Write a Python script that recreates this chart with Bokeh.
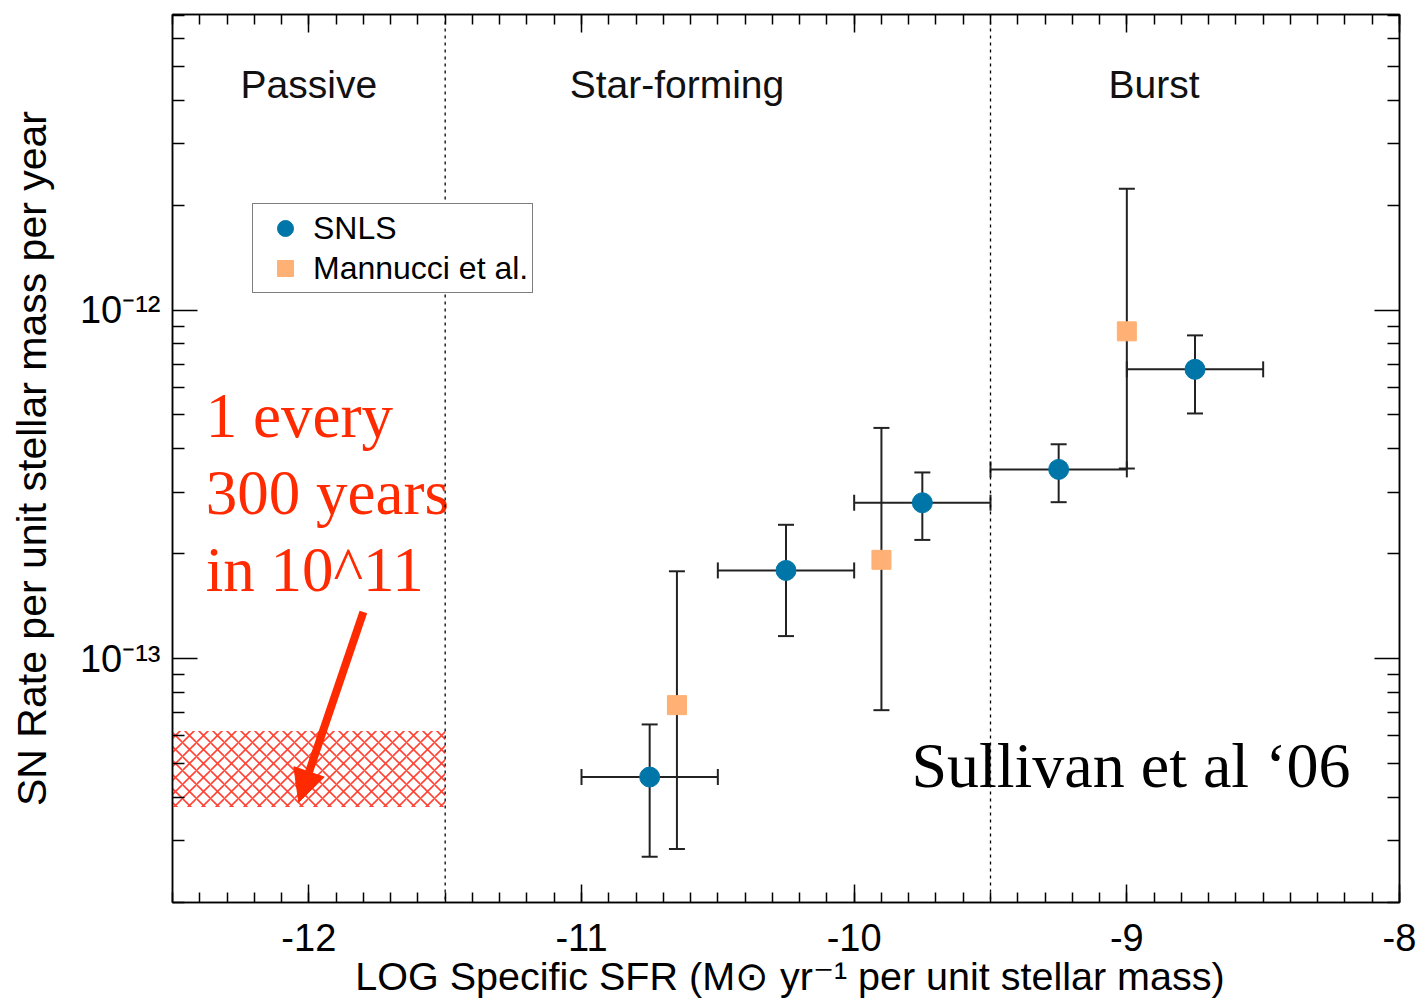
from bokeh.plotting import figure
from bokeh.models import (ColumnDataSource, Whisker, TeeHead, Span, Arrow, NormalHead,
                          FixedTicker, LinearAxis, LogAxis, Legend, LegendItem)
from bokeh.core.properties import value
from bokeh.embed import file_html
from bokeh.resources import INLINE

# ---------------- data ----------------
snls_x = [-10.75, -10.25, -9.75, -9.25, -8.75]
snls_y = [4.57e-14, 1.79e-13, 2.80e-13, 3.49e-13, 6.76e-13]
snls_y_lo = [2.70e-14, 1.16e-13, 2.19e-13, 2.81e-13, 5.05e-13]
snls_y_hi = [6.47e-14, 2.42e-13, 3.42e-13, 4.12e-13, 8.46e-13]
snls_x_lo = [-11.0, -10.5, -10.0, -9.5, -9.0]
snls_x_hi = [-10.5, -10.0, -9.5, -9.0, -8.5]

mann_x = [-10.65, -9.9, -9.0]
mann_y = [7.35e-14, 1.92e-13, 8.69e-13]
mann_y_lo = [2.84e-14, 7.11e-14, 3.51e-13]
mann_y_hi = [1.78e-13, 4.59e-13, 2.23e-12]

band_x = [-12.5, -11.5]
band_y = [3.75e-14, 6.20e-14]

regions = ["Passive", "Star-forming", "Burst"]
region_x = [-12.0, -10.65, -8.9]
region_y = [4.44e-12, 4.44e-12, 4.44e-12]
dividers = [-11.5, -9.5]

note_lines = ["1 every", "300 years", "in 10^11"]
note_x = [-12.378, -12.378, -12.378]
note_y = [4.95e-13, 2.98e-13, 1.79e-13]
arrow_from = (-11.80, 1.36e-13)
arrow_to = (-12.037, 3.87e-14)

credit = ["Sullivan et al \u201806"]
credit_x = [-9.79]
credit_y = [4.92e-14]

x_ticks = [-12, -11, -10, -9, -8]
x_tick_labels = ["-12", "-11", "-10", "-9", "-8"]
y_ticks = [1e-13, 1e-12]
y_tick_labels = ["10\u207b\u00b9\u00b3", "10\u207b\u00b9\u00b2"]

x_minor = [round(-12.5 + 0.1 * i, 2) for i in range(46)]
y_minor = [k * 10.0 ** e for e in (-14, -13, -12) for k in range(2, 10)]

SNLS_COLOR = "#0076a8"
MANN_COLOR = "#ffb074"
RED = "#ff2a00"
SANS = "Liberation Sans"
SERIF = "Liberation Serif"

p = figure(width=1419, height=1004, x_range=(-12.5, -8.0), y_range=(1.995e-14, 7.05e-12),
           y_axis_type="log", output_backend="svg", toolbar_location=None,
           min_border_left=172, min_border_right=20, min_border_top=14, min_border_bottom=102)
p.grid.visible = False
p.outline_line_color = "black"
p.outline_line_width = 1.5
p.background_fill_color = "white"
p.border_fill_color = "white"

bottom_axis = p.below[0]
left_axis = p.left[0]

# axes
bottom_axis.ticker = FixedTicker(ticks=x_ticks, minor_ticks=x_minor)
left_axis.ticker = FixedTicker(ticks=y_ticks, minor_ticks=y_minor)
bottom_axis.major_label_overrides = dict(zip(x_ticks, x_tick_labels))
left_axis.major_label_overrides = dict(zip(y_ticks, y_tick_labels))

top_axis = LinearAxis(ticker=FixedTicker(ticks=x_ticks, minor_ticks=x_minor),
                      major_label_overrides={t: "" for t in x_ticks})
right_axis = LogAxis(ticker=FixedTicker(ticks=y_ticks, minor_ticks=y_minor),
                     major_label_overrides={t: "" for t in y_ticks})
p.add_layout(top_axis, "above")
p.add_layout(right_axis, "right")

for ax in [bottom_axis, top_axis]:
    ax.major_tick_in = 18
    ax.major_tick_out = 0
    ax.minor_tick_in = 10
    ax.minor_tick_out = 0
for ax in [left_axis, right_axis]:
    ax.major_tick_in = 25
    ax.major_tick_out = 0
    ax.minor_tick_in = 12
    ax.minor_tick_out = 0
for ax in [bottom_axis, top_axis, left_axis, right_axis]:
    ax.axis_line_width = 1.5
    ax.major_tick_line_width = 1.5
    ax.minor_tick_line_width = 1.5
    ax.axis_line_color = "black"
    ax.major_tick_line_color = "black"
    ax.minor_tick_line_color = "black"
    ax.major_label_text_font = SANS
    ax.major_label_text_color = "black"
    ax.axis_label_text_font = SANS
    ax.axis_label_text_font_style = "normal"
    ax.axis_label_text_color = "black"
top_axis.major_label_text_font_size = "1px"
right_axis.major_label_text_font_size = "1px"
top_axis.major_label_standoff = 0
right_axis.major_label_standoff = 0

bottom_axis.major_label_text_font_size = "38px"
bottom_axis.major_label_standoff = 21
bottom_axis.axis_label = "LOG Specific SFR (M\u2299 yr\u207b\u00b9 per unit stellar mass)"
bottom_axis.axis_label_text_font_size = "39.5px"
bottom_axis.axis_label_standoff = 0

left_axis.major_label_text_font_size = "38px"
left_axis.major_label_standoff = 12
left_axis.axis_label = "SN Rate per unit stellar mass per year"
left_axis.axis_label_text_font_size = "41px"
left_axis.axis_label_standoff = 22

# hatched passive band
p.quad(left=[band_x[0]], right=[band_x[1]], bottom=[band_y[0]], top=[band_y[1]],
       fill_color=None, line_color=None, hatch_pattern="x", hatch_color="#ff3020",
       hatch_scale=14, hatch_weight=1.6, hatch_alpha=0.9)

# dividers
for d in dividers:
    p.add_layout(Span(location=d, dimension="height", line_color="black",
                      line_width=1.3, line_dash="3 4"))

# region labels
p.text(x=region_x, y=region_y, text=regions, text_font=value(SANS), text_font_size="39px",
       text_align="center", text_baseline="alphabetic", text_color="#111111")

# error bars
snls_src = ColumnDataSource(dict(x=snls_x, y=snls_y, ylo=snls_y_lo, yhi=snls_y_hi,
                                 xlo=snls_x_lo, xhi=snls_x_hi))
mann_src = ColumnDataSource(dict(x=mann_x, y=mann_y, ylo=mann_y_lo, yhi=mann_y_hi))

def tee():
    return TeeHead(size=16, line_width=2, line_color="#222222")

for src, has_x in [(snls_src, True), (mann_src, False)]:
    p.add_layout(Whisker(source=src, base="x", lower="ylo", upper="yhi", dimension="height",
                         line_color="#222222", line_width=2,
                         lower_head=tee(), upper_head=tee()))
    if has_x:
        p.add_layout(Whisker(source=src, base="y", lower="xlo", upper="xhi", dimension="width",
                             line_color="#222222", line_width=2,
                             lower_head=tee(), upper_head=tee()))

r_snls = p.scatter("x", "y", source=snls_src, marker="circle", size=20,
                   fill_color=SNLS_COLOR, line_color=SNLS_COLOR)
r_mann = p.scatter("x", "y", source=mann_src, marker="square", size=19,
                   fill_color=MANN_COLOR, line_color=MANN_COLOR)

# annotation text & arrow
p.text(x=note_x, y=note_y, text=note_lines, text_font=value(SERIF), text_font_size="63px",
       text_color=RED, text_baseline="alphabetic", text_align="left")
p.add_layout(Arrow(end=NormalHead(size=32, fill_color=RED, line_color=RED, line_width=1),
                   x_start=arrow_from[0], y_start=arrow_from[1],
                   x_end=arrow_to[0], y_end=arrow_to[1],
                   line_color=RED, line_width=8))
p.text(x=credit_x, y=credit_y, text=credit, text_font=value(SERIF), text_font_size="64px",
       text_color="black", text_baseline="alphabetic", text_align="left")

legend = Legend(items=[LegendItem(label="SNLS", renderers=[r_snls]),
                       LegendItem(label="Mannucci et al.", renderers=[r_mann])],
                location=(80, 609), glyph_width=56, glyph_height=40, spacing=0,
                label_standoff=0, padding=4, margin=0,
                label_text_font=SANS, label_text_font_size="32px", label_text_color="black",
                border_line_color="black", border_line_width=1.5,
                background_fill_color="white", background_fill_alpha=1.0)
p.add_layout(legend)

open("out.html", "w").write(file_html(p, INLINE))
